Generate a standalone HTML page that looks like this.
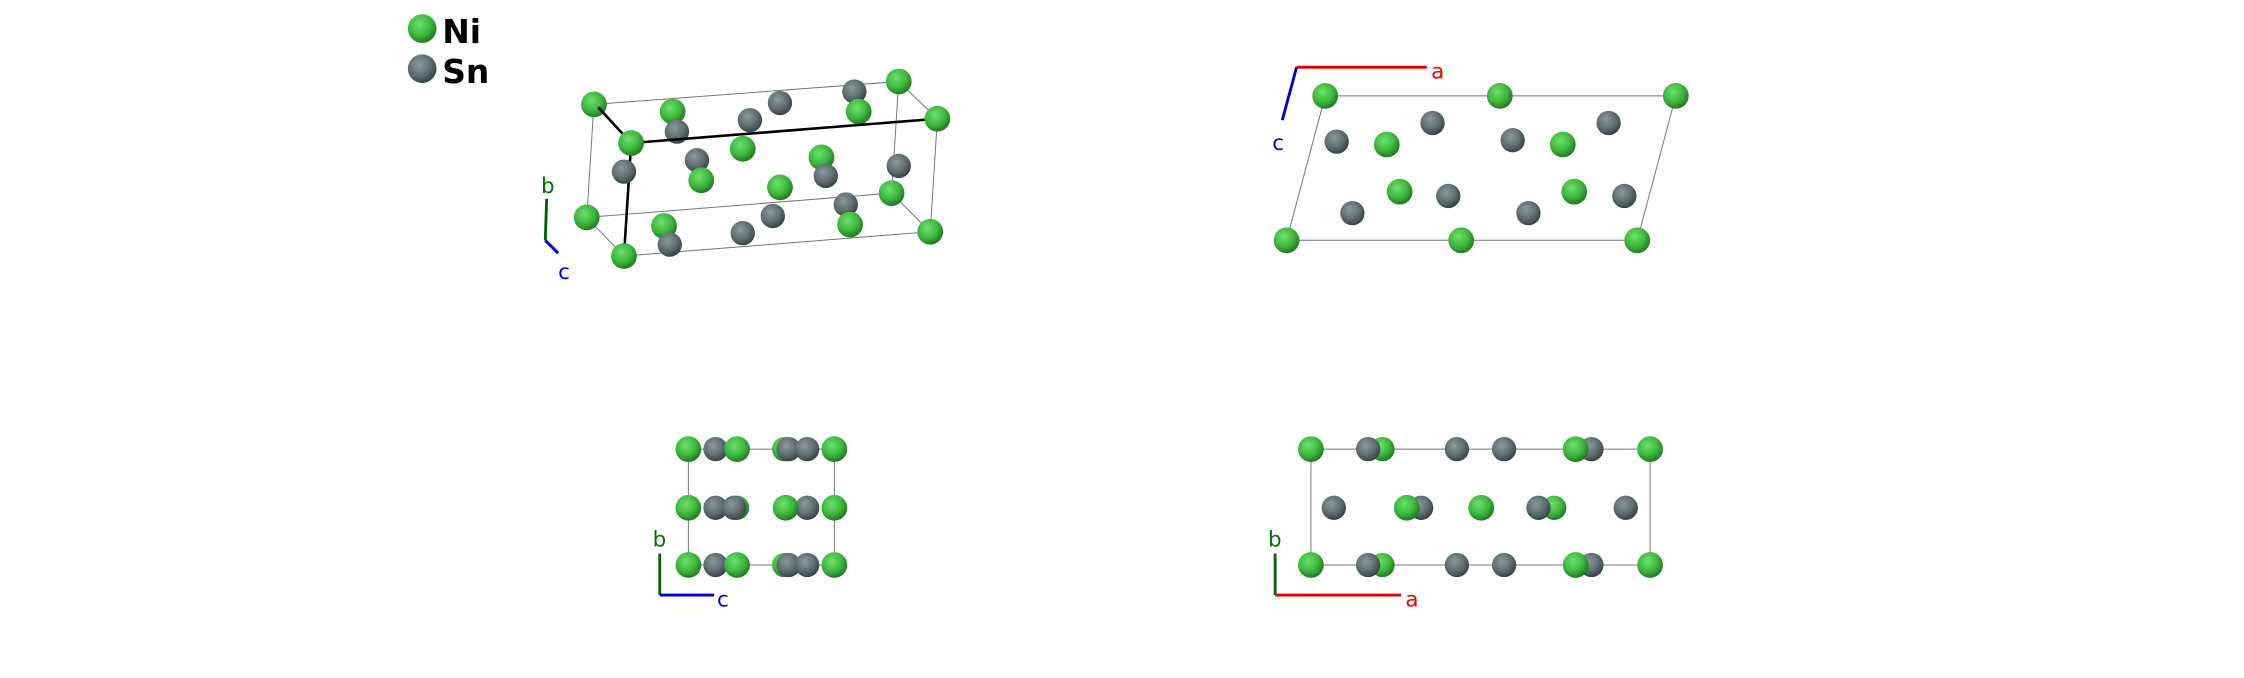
<!DOCTYPE html>
<html><head><meta charset="utf-8"><style>
html,body{margin:0;padding:0;background:#fff;}
svg{display:block;}
text{font-family:"DejaVu Sans","Liberation Sans",sans-serif;}
</style></head><body>
<svg width="2244" height="678" viewBox="0 0 1568 474" preserveAspectRatio="none" xmlns="http://www.w3.org/2000/svg">
<defs>
<radialGradient id="ni" cx="40%" cy="35%" r="65%"><stop offset="0" stop-color="#6fe06f"/><stop offset="0.6" stop-color="#3db83d"/><stop offset="1" stop-color="#237a23"/></radialGradient>
<radialGradient id="sn" cx="40%" cy="35%" r="65%"><stop offset="0" stop-color="#8a9a9c"/><stop offset="0.6" stop-color="#5f6e70"/><stop offset="1" stop-color="#3a4446"/></radialGradient>
</defs>
<rect width="1568" height="474" fill="#fff"/>
<!-- legend -->
<circle cx="295" cy="20" r="10" fill="url(#ni)"/>
<text x="309" y="30" font-size="23" font-weight="bold">Ni</text>
<circle cx="295" cy="48" r="10" fill="url(#sn)"/>
<text x="309" y="58" font-size="23" font-weight="bold">Sn</text>

<!-- view 1 -->
<g stroke="#777" stroke-width="0.7" fill="none">
<path d="M415,73 L628,57 L655,83 L650,162 L436,179 M415,73 L410,152 L436,179 M410,152 L623,135 L650,162 M628,57 L623,135"/>
</g>
<g fill="url(#sn)">
<circle cx="545" cy="72" r="8.5"/><circle cx="597" cy="64" r="8.5"/><circle cx="524" cy="84" r="8.5"/>
</g>
<g fill="url(#ni)">
<circle cx="415" cy="73" r="9"/><circle cx="628" cy="57" r="9"/><circle cx="600" cy="78" r="9"/><circle cx="470" cy="78" r="9"/>
</g>
<g fill="url(#sn)"><circle cx="473" cy="92" r="8.5"/></g>
<g stroke="#000" stroke-width="1.8" fill="none"><path d="M418,75 L441,100 L655,83 M441,100 L436,179"/></g>
<g fill="url(#sn)">
<circle cx="487" cy="112" r="8.5"/><circle cx="436" cy="120" r="8.5"/><circle cx="628" cy="116" r="8.5"/>
</g>
<g fill="url(#ni)">
<circle cx="441" cy="100" r="9"/><circle cx="655" cy="83" r="9"/><circle cx="519" cy="104" r="9"/><circle cx="574" cy="110" r="9"/><circle cx="490" cy="126" r="9"/><circle cx="545" cy="131" r="9"/>
</g>
<g fill="url(#sn)">
<circle cx="577" cy="123" r="8.5"/><circle cx="591" cy="143" r="8.5"/><circle cx="540" cy="151" r="8.5"/><circle cx="519" cy="163" r="8.5"/>
</g>
<g fill="url(#ni)">
<circle cx="623" cy="135" r="9"/><circle cx="410" cy="152" r="9"/><circle cx="464" cy="158" r="9"/><circle cx="594" cy="157" r="9"/><circle cx="650" cy="162" r="9"/><circle cx="436" cy="179" r="9"/>
</g>
<g fill="url(#sn)"><circle cx="468" cy="171" r="8.5"/></g>
<line x1="382" y1="139" x2="381" y2="168" stroke="#006400" stroke-width="2"/>
<line x1="381" y1="168" x2="390" y2="177" stroke="#0000cc" stroke-width="2"/>
<text x="378" y="135" font-size="15" fill="#007000">b</text>
<text x="390" y="195" font-size="15" fill="#0000dd">c</text>

<!-- view 2 -->
<path d="M926,67 L1171,67 L1144,168 L899,168 Z" stroke="#777" stroke-width="0.7" fill="none"/>
<g fill="url(#sn)">
<circle cx="934" cy="99" r="8.5"/><circle cx="1001" cy="86" r="8.5"/><circle cx="1057" cy="98" r="8.5"/><circle cx="1124" cy="86" r="8.5"/>
<circle cx="945" cy="149" r="8.5"/><circle cx="1012" cy="137" r="8.5"/><circle cx="1068" cy="149" r="8.5"/><circle cx="1135" cy="137" r="8.5"/>
</g>
<g fill="url(#ni)">
<circle cx="926" cy="67" r="9"/><circle cx="1048" cy="67" r="9"/><circle cx="1171" cy="67" r="9"/><circle cx="969" cy="101" r="9"/><circle cx="1092" cy="101" r="9"/>
<circle cx="978" cy="134" r="9"/><circle cx="1100" cy="134" r="9"/><circle cx="899" cy="168" r="9"/><circle cx="1021" cy="168" r="9"/><circle cx="1144" cy="168" r="9"/>
</g>
<line x1="906" y1="47" x2="997" y2="47" stroke="#dd0000" stroke-width="2"/>
<line x1="906" y1="47" x2="896" y2="84" stroke="#0000cc" stroke-width="2"/>
<text x="1000" y="55" font-size="15" fill="#ee0000">a</text>
<text x="889" y="105" font-size="15" fill="#0000dd">c</text>

<!-- view 3 -->
<rect x="481" y="314" width="102" height="81" stroke="#777" stroke-width="0.7" fill="none"/>
<g>
<g id="r3">
<circle cx="548" cy="314" r="8.5" fill="url(#ni)"/>
<circle cx="500" cy="314" r="8.5" fill="url(#sn)"/>
<circle cx="551" cy="314" r="8.5" fill="url(#sn)"/>
<circle cx="564" cy="314" r="8.5" fill="url(#sn)"/>
<circle cx="481" cy="314" r="9" fill="url(#ni)"/>
<circle cx="515" cy="314" r="9" fill="url(#ni)"/>
<circle cx="583" cy="314" r="9" fill="url(#ni)"/>
</g>
<use href="#r3" y="81"/>
<circle cx="515" cy="355" r="8.5" fill="url(#ni)"/>
<circle cx="500" cy="355" r="8.5" fill="url(#sn)"/>
<circle cx="513" cy="355" r="8.5" fill="url(#sn)"/>
<circle cx="564" cy="355" r="8.5" fill="url(#sn)"/>
<circle cx="481" cy="355" r="9" fill="url(#ni)"/>
<circle cx="549" cy="355" r="9" fill="url(#ni)"/>
<circle cx="583" cy="355" r="9" fill="url(#ni)"/>
</g>
<line x1="461" y1="387" x2="461" y2="416" stroke="#006400" stroke-width="2"/>
<line x1="461" y1="416" x2="499" y2="416" stroke="#0000cc" stroke-width="2"/>
<text x="456" y="382" font-size="15" fill="#007000">b</text>
<text x="501" y="424" font-size="15" fill="#0000dd">c</text>

<!-- view 4 -->
<rect x="916" y="314" width="237" height="81" stroke="#777" stroke-width="0.7" fill="none"/>
<g id="r4">
<circle cx="966" cy="314" r="8.5" fill="url(#ni)"/>
<circle cx="1112" cy="314" r="8.5" fill="url(#sn)"/>
<circle cx="956" cy="314" r="8.5" fill="url(#sn)"/>
<circle cx="1018" cy="314" r="8.5" fill="url(#sn)"/>
<circle cx="1051" cy="314" r="8.5" fill="url(#sn)"/>
<circle cx="1101" cy="314" r="9" fill="url(#ni)"/>
<circle cx="916" cy="314" r="9" fill="url(#ni)"/>
<circle cx="1153" cy="314" r="9" fill="url(#ni)"/>
</g>
<use href="#r4" y="81"/>
<circle cx="993" cy="355" r="8.5" fill="url(#sn)"/>
<circle cx="1086" cy="355" r="8.5" fill="url(#ni)"/>
<circle cx="932" cy="355" r="8.5" fill="url(#sn)"/>
<circle cx="983" cy="355" r="9" fill="url(#ni)"/>
<circle cx="1035" cy="355" r="9" fill="url(#ni)"/>
<circle cx="1075" cy="355" r="8.5" fill="url(#sn)"/>
<circle cx="1136" cy="355" r="8.5" fill="url(#sn)"/>
<line x1="891" y1="387" x2="891" y2="416" stroke="#006400" stroke-width="2"/>
<line x1="891" y1="416" x2="979" y2="416" stroke="#dd0000" stroke-width="2"/>
<text x="886" y="382" font-size="15" fill="#007000">b</text>
<text x="982" y="424" font-size="15" fill="#ee0000">a</text>
</svg>
</body></html>
